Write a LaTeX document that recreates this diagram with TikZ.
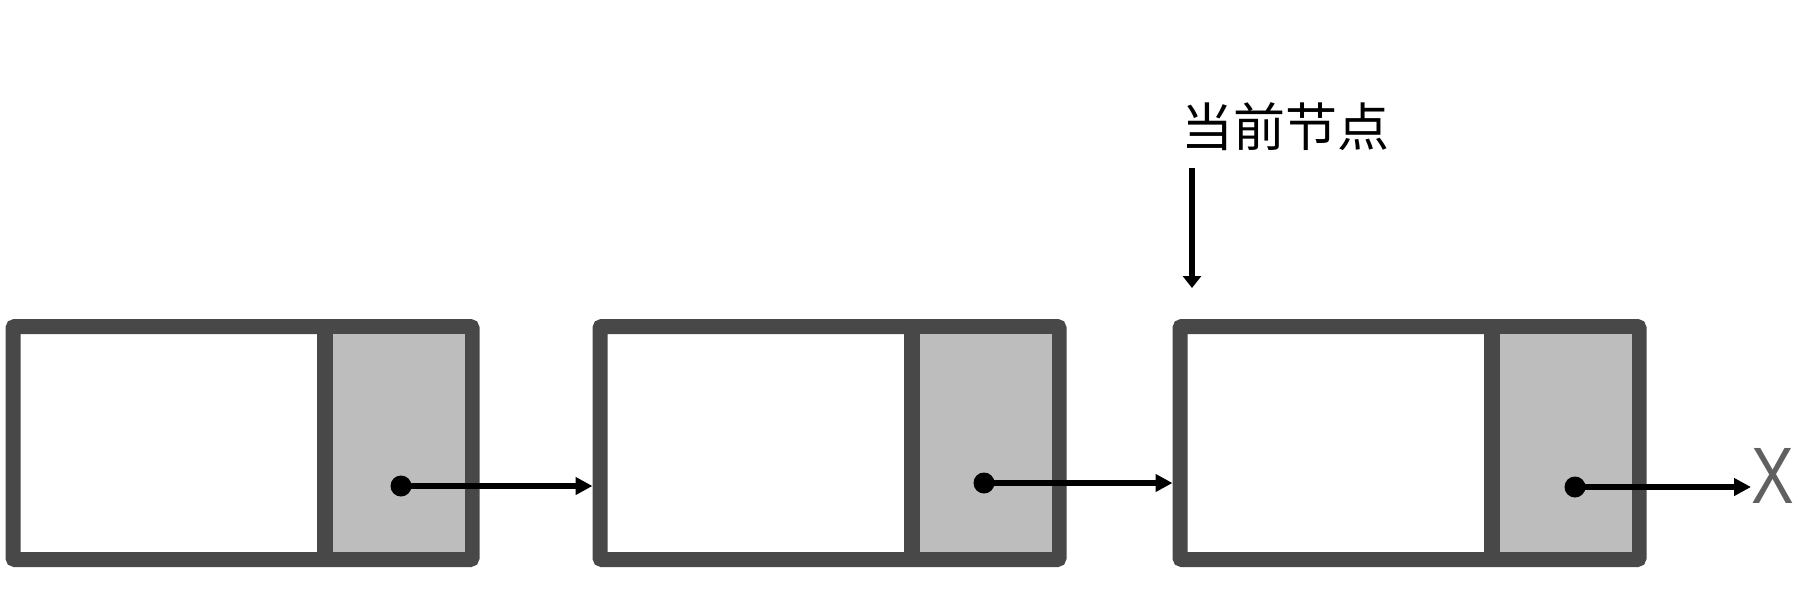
\documentclass[tikz,border=0pt]{standalone}
\usepackage{fontspec}
\newfontfamily\cjk{Noto Sans CJK SC}
\setsansfont{Liberation Sans}
\usetikzlibrary{arrows.meta}
\definecolor{frame}{RGB}{72,72,72}
\definecolor{cellgray}{RGB}{189,189,189}
\definecolor{xgray}{RGB}{96,96,96}
\tikzset{
  listbox/.style={draw=frame, fill=white, line width=15pt, rounded corners=2pt,
    minimum width=459pt, minimum height=233pt, inner sep=0pt},
  ptrcell/.style={fill=cellgray, minimum width=140pt, minimum height=218pt,
    inner sep=0pt, outer sep=0pt},
  divider/.style={draw=frame, line width=16pt},
  dotnode/.style={circle, fill=black, minimum size=21pt, inner sep=0pt},
  link/.style={draw=black, line width=5.5pt, -{Triangle[length=17pt,width=17pt]}},
  curarrow/.style={draw=black, line width=6pt, -{Triangle[length=12pt,width=18pt]}}
}
\begin{document}
\begin{tikzpicture}[x=1pt,y=-1pt]
\useasboundingbox (0,0) rectangle (1799,592);
% boxes
\node[listbox] (b1) at (242.5,443) {};
\node[listbox] (b2) at (829.5,443) {};
\node[listbox] (b3) at (1409.5,443) {};
% pointer cells
\node[ptrcell, anchor=east] (p1) at (465,443) {};
\node[ptrcell, anchor=east] (p2) at (1052,443) {};
\node[ptrcell, anchor=east] (p3) at (1632,443) {};
% dividers
\draw[divider] (p1.north west) -- (p1.south west);
\draw[divider] (p2.north west) -- (p2.south west);
\draw[divider] (p3.north west) -- (p3.south west);
% dots
\node[dotnode] (d1) at (401,486) {};
\node[dotnode] (d2) at (984,483) {};
\node[dotnode] (d3) at (1575,487) {};
% end marker
\node[anchor=west, inner sep=0pt, text=xgray, xscale=0.8, font=\sffamily\fontsize{80}{80}\selectfont] (x) at (1751,476) {X};
% links
\draw[link] (d1.center) -- (d1 -| b2.west);
\draw[link] (d2.center) -- (d2 -| b3.west);
\draw[link] (d3.center) -- (d3 -| x.west);
% current node label
\node[inner sep=0pt, font=\cjk\fontsize{52}{52}\selectfont] (cur) at (1285,127) {当前节点};
\coordinate (vt) at (1192,168);
\coordinate (vb) at (1192,288);
\draw[curarrow] (vt) -- (vb);
\end{tikzpicture}
\end{document}
